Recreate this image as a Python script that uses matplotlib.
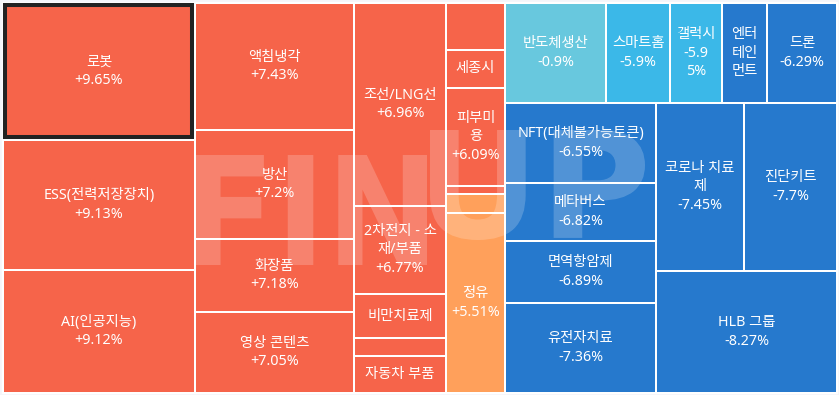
import matplotlib.pyplot as plt
from matplotlib.patches import Rectangle, PathPatch
from matplotlib.textpath import TextPath
from matplotlib.font_manager import FontProperties
from matplotlib.transforms import Affine2D

plt.rcParams['font.family'] = ['Noto Sans', 'Noto Sans CJK KR', 'DejaVu Sans']

# theme names, daily change (%) and tile size (relative weight)
names = ["로봇", "ESS(전력저장장치)", "AI(인공지능)",
         "액침냉각", "방산", "화장품", "영상 콘텐츠",
         "조선/LNG선", "2차전지 - 소재/부품", "비만치료제", "", "자동차 부품",
         "", "세종시", "피부미용", "", "", "정유",
         "반도체생산", "스마트홈", "갤럭시", "엔터테인먼트", "드론",
         "NFT(대체불가능토큰)", "메타버스", "면역항암제", "유전자치료",
         "코로나 치료제", "진단키트", "HLB 그룹"]
changes = [9.65, 9.13, 9.12,
           7.43, 7.2, 7.18, 7.05,
           6.96, 6.77, 6.7, 6.6, 6.5,
           6.4, 6.3, 6.09, 6.05, 5.8, 5.51,
           -0.9, -5.9, -5.95, -6.1, -6.29,
           -6.55, -6.82, -6.89, -7.36,
           -7.45, -7.7, -8.27]
weights = [263.0, 249.6, 236.2,
           201.9, 173.3, 116.1, 128.8,
           186.8, 81.0, 40.5, 16.6, 34.0,
           27.7, 22.4, 57.8, 4.7, 11.2, 106.2,
           101.0, 64.0, 52.0, 45.0, 70.0,
           120.8, 87.6, 93.6, 135.9,
           147.8, 156.2, 220.8]
selected = 0  # highlighted tile

# how the tiles are nested: 'h' = side by side, 'v' = stacked
tree = ('h', [('v', [0, 1, 2]),
              ('v', [3, 4, 5, 6]),
              ('v', [7, 8, 9, 10, 11]),
              ('v', [12, 13, 14, 15, 16, 17]),
              ('v', [('h', [18, 19, 20, 21, 22]),
                     ('h', [('v', [23, 24, 25, 26]),
                            ('v', [('h', [27, 28]), 29])])])])


def node_weight(node):
    if isinstance(node, int):
        return weights[node]
    return sum(node_weight(k) for k in node[1])


def layout(node, x0, y0, x1, y1, out):
    if isinstance(node, int):
        out[node] = (x0, y0, x1, y1)
        return
    orient, kids = node
    total = node_weight(node)
    pos = x0 if orient == 'h' else y0
    for k in kids:
        frac = node_weight(k) / total
        if orient == 'h':
            step = (x1 - x0) * frac
            layout(k, pos, y0, pos + step, y1, out)
        else:
            step = (y1 - y0) * frac
            layout(k, x0, pos, x1, pos + step, out)
        pos += step


def tile_color(v):
    if v >= 6:
        return '#f6644a'
    if v >= 3:
        return '#ffa05b'
    if v > -3:
        return '#68c8de'
    if v > -6:
        return '#3bb8e8'
    return '#2679cd'


def fmt(v):
    return f"{v:+.2f}".rstrip('0').rstrip('.') + '%'


W, H = 839, 395
fig = plt.figure(figsize=(W / 100, H / 100), dpi=100, facecolor='#f4f5f9')
ax = fig.add_axes([0, 0, 1, 1])
ax.set_xlim(0, W)
ax.set_ylim(H, 0)
ax.axis('off')
ax.add_patch(Rectangle((2, 2), W - 4, H - 4, color='white', zorder=0))

rects = {}
layout(tree, 3, 3, W - 2, H - 2, rects)

for i, (x0, y0, x1, y1) in rects.items():
    ax.add_patch(Rectangle((x0 + 1, y0 + 1), x1 - x0 - 2, y1 - y0 - 2,
                           facecolor=tile_color(changes[i]), edgecolor='none', zorder=1))

x0, y0, x1, y1 = rects[selected]
ax.add_patch(Rectangle((x0 + 2.3, y0 + 2.3), x1 - x0 - 5, y1 - y0 - 5, fill=False,
                       edgecolor='#222222', linewidth=2.9, zorder=4))

# watermark
wm_font = FontProperties(family='DejaVu Sans', weight='bold')
for word, (bx0, by0, bx1, by1) in [("FIN", (195, 155, 427, 265)), ("UP", (430, 130, 645, 240))]:
    tp = TextPath((0, 0), word, size=100, prop=wm_font)
    ext = tp.get_extents()
    tr = (Affine2D().translate(-ext.x0, -ext.y1)
          .scale((bx1 - bx0) / ext.width, -(by1 - by0) / ext.height)
          .translate(bx0, by0))
    ax.add_patch(PathPatch(tr.transform_path(tp), facecolor='white', edgecolor='none',
                           alpha=0.2, zorder=2))

fs = 10.3
prop = FontProperties(family=['Noto Sans', 'Noto Sans CJK KR', 'DejaVu Sans'], size=fs)
renderer = fig.canvas.get_renderer()


def text_w(s):
    return renderer.get_text_width_height_descent(s, prop, ismath=False)[0]


def wrap(s, avail):
    # break anywhere, but never start a line with '%' or ')'
    lines, cur = [], ''
    for ch in s:
        if cur and text_w(cur + ch) > avail:
            carry = ''
            if ch in '%)' and len(cur) > 1:
                cur, carry = cur[:-1], cur[-1]
            lines.append(cur.strip())
            cur = (carry + ch).lstrip()
        else:
            cur += ch
    if cur.strip():
        lines.append(cur.strip())
    return lines


line_h = 20
for i, (x0, y0, x1, y1) in rects.items():
    if not names[i]:
        continue
    w, h = x1 - x0, y1 - y0
    avail = w - 9.5
    lines = wrap(names[i], avail)
    max_lines = min(3, int((h - 8) // line_h))
    val_lines = wrap(fmt(changes[i]), avail)
    if len(lines) + len(val_lines) <= max_lines:
        lines += val_lines
    ax.text((x0 + x1) / 2, (y0 + y1) / 2, "\n".join(lines), ha='center', va='center',
            multialignment='center', color='white', fontproperties=prop,
            linespacing=1.33, zorder=3)

fig.savefig("out.png", dpi=100, facecolor=fig.get_facecolor())
